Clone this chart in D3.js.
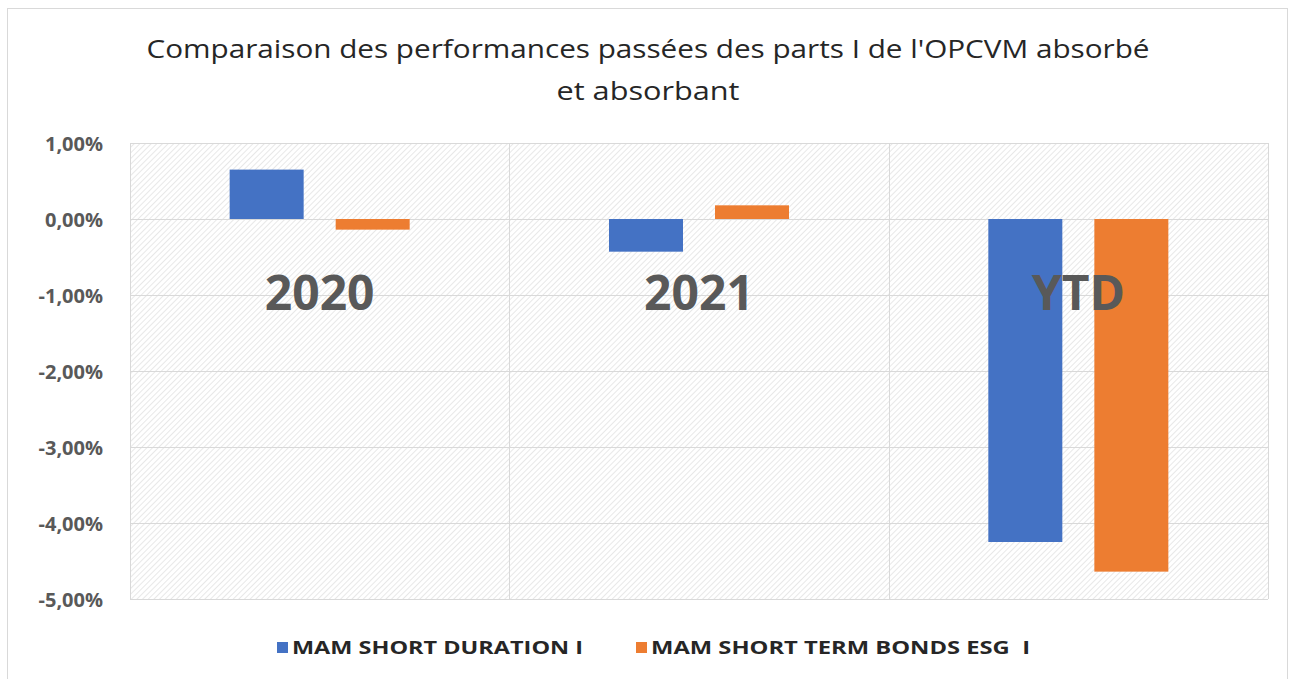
<!DOCTYPE html>
<html>
<head>
<meta charset="utf-8">
<style>
  body { margin:0; background:#fff; }
  .grid line { stroke:#d9d9d9; stroke-width:1; }
  .yaxis text { font: bold 20px "Open Sans", sans-serif; fill:#595959; }
  .catLabel { font: bold 48px "Open Sans", sans-serif; fill:#595959; text-anchor:middle; }
  .title { font: 25px "Open Sans", sans-serif; fill:#262626; text-anchor:middle; }
  .legend text { font: bold 17px "Open Sans", sans-serif; fill:#262626; }
</style>
</head>
<body>
<svg width="1295" height="679"></svg>
<script src="https://cdn.jsdelivr.net/npm/d3@7"></script>
<script>
var categories = ["2020", "2021", "YTD"]
var seriesNames = ["MAM SHORT DURATION I", "MAM SHORT TERM BONDS ESG  I"]
var seriesColors = ["#4472C4", "#ED7D31"]
var shortDuration = [0.65, -0.43, -4.25]
var shortTermBonds = [-0.14, 0.18, -4.64]
var yTicks = [1, 0, -1, -2, -3, -4, -5]
var titleLines = ["Comparaison des performances passées des parts I de l'OPCVM absorbé", "et absorbant"]

var series = [shortDuration, shortTermBonds]

var svg = d3.select("svg")
var plotLeft = 130, plotRight = 1268, plotTop = 143, plotBottom = 599

// outer frame
svg.append("rect")
  .attr("x", 7.5).attr("y", 8.5)
  .attr("width", 1280).attr("height", 700)
  .attr("fill", "#fff")
  .attr("stroke", "#d9d9d9")

// hatch pattern
var defs = svg.append("defs")
var pat = defs.append("pattern")
  .attr("id", "hatch")
  .attr("patternUnits", "userSpaceOnUse")
  .attr("width", 4).attr("height", 4)
  .attr("patternTransform", "rotate(45)")
pat.append("rect").attr("width", 4).attr("height", 4).attr("fill", "#fff")
pat.append("line").attr("x1", 0).attr("y1", 0).attr("x2", 0).attr("y2", 4)
  .attr("stroke", "#dcdcdc").attr("stroke-width", 1.3)

svg.append("rect")
  .attr("x", plotLeft).attr("y", plotTop)
  .attr("width", plotRight - plotLeft).attr("height", plotBottom - plotTop)
  .attr("fill", "url(#hatch)")

var x0 = d3.scaleBand().domain(categories).range([plotLeft, plotRight]).padding(0)
var x1 = d3.scaleBand().domain([0, 1]).range([0, x0.bandwidth()])
  .paddingInner(0.302).paddingOuter(0.94)
var y = d3.scaleLinear().domain([-5, 1]).range([plotBottom, plotTop])

var locale = d3.formatLocale({decimal: ",", thousands: " ", grouping: [3], currency: ["", "€"], minus: "-"})
var fmt = function(d) { return locale.format(".2f")(d) + "%" }

// grid
var grid = svg.append("g").attr("class", "grid")
grid.selectAll(".h").data(yTicks).enter().append("line")
  .attr("x1", plotLeft).attr("x2", plotRight)
  .attr("y1", function(d) { return Math.round(y(d)) + 0.5 })
  .attr("y2", function(d) { return Math.round(y(d)) + 0.5 })
grid.selectAll(".v").data(categories.concat(["end"])).enter().append("line")
  .attr("x1", function(d, i) { return Math.round(plotLeft + i * x0.step()) + 0.5 })
  .attr("x2", function(d, i) { return Math.round(plotLeft + i * x0.step()) + 0.5 })
  .attr("y1", plotTop).attr("y2", plotBottom)

// y axis labels
var yAxis = svg.append("g").attr("class", "yaxis")
  .attr("transform", "translate(" + (plotLeft - 27) + ",0)")
  .call(d3.axisLeft(y).tickValues(yTicks).tickFormat(fmt).tickSize(0).tickPadding(0))
yAxis.select(".domain").remove()
yAxis.selectAll("text").attr("dy", "0.35em")

// bars
var gCat = svg.selectAll(".cat").data(categories).enter().append("g")
  .attr("class", "cat")
  .attr("transform", function(d) { return "translate(" + x0(d) + ",0)" })

gCat.selectAll("rect")
  .data(function(d, i) { return series.map(function(s, k) { return {k: k, v: s[i]} }) })
  .enter().append("rect")
  .attr("x", function(d) { return x1(d.k) })
  .attr("width", x1.bandwidth())
  .attr("y", function(d) { return y(Math.max(0, d.v)) })
  .attr("height", function(d) { return Math.abs(y(d.v) - y(0)) })
  .attr("fill", function(d) { return seriesColors[d.k] })

// category labels (drawn on top of bars)
svg.selectAll(".catLabel").data(categories).enter().append("text")
  .attr("class", "catLabel")
  .attr("x", function(d) { return x0(d) + x0.bandwidth() / 2 })
  .attr("y", 310)
  .text(function(d) { return d })

// title
svg.selectAll(".title").data(titleLines).enter().append("text")
  .attr("class", "title")
  .attr("x", 648)
  .attr("y", function(d, i) { return 58 + i * 42 })
  .attr("textLength", function(d, i) { return i === 0 ? 1003 : 183 })
  .attr("lengthAdjust", "spacingAndGlyphs")
  .text(function(d) { return d })

// legend
var legX = [277, 636], legLen = [291, 379]
var leg = svg.append("g").attr("class", "legend")
var li = leg.selectAll("g").data(seriesNames).enter().append("g")
  .attr("transform", function(d, i) { return "translate(" + legX[i] + ",642)" })
li.append("rect").attr("width", 11).attr("height", 11)
  .attr("fill", function(d, i) { return seriesColors[i] })
li.append("text").attr("x", 15).attr("y", 12)
  .attr("textLength", function(d, i) { return legLen[i] })
  .attr("lengthAdjust", "spacingAndGlyphs")
  .text(function(d) { return d })
  .style("white-space", "pre")
</script>
</body>
</html>
